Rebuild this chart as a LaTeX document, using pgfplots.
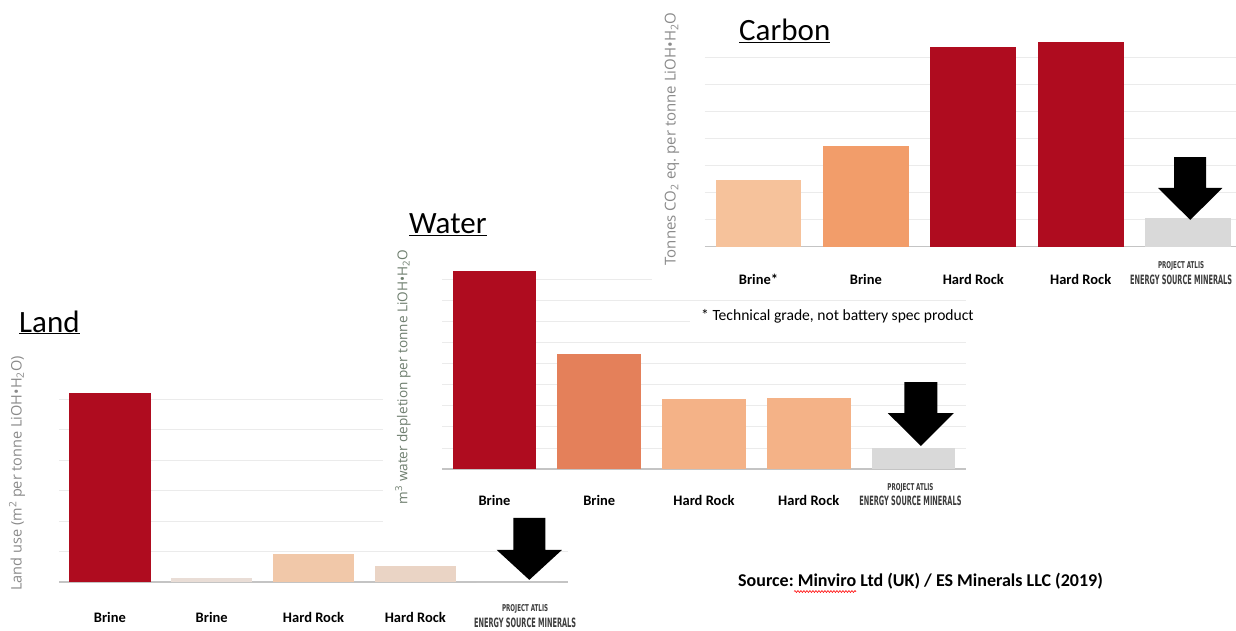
\documentclass[border=0pt]{standalone}
\usepackage{pgfplots}
\pgfplotsset{compat=1.18}
\usepackage{graphicx}
\usepackage{fontspec}
\setmainfont{Carlito}
\newfontfamily\osans{Open Sans}
\newfontfamily\condf{DejaVu Sans Condensed}
\usetikzlibrary{decorations.pathmorphing}
\frenchspacing

\definecolor{dred}{HTML}{AF0C1F}
\definecolor{landBb}{HTML}{E9DDD6}
\definecolor{landHa}{HTML}{F1C8A9}
\definecolor{landHb}{HTML}{EAD4C5}
\definecolor{watB}{HTML}{E4805A}
\definecolor{watH}{HTML}{F4B287}
\definecolor{carBa}{HTML}{F6C29B}
\definecolor{carBb}{HTML}{F29D6A}
\definecolor{atlisc}{HTML}{D9D9D9}
\definecolor{gridc}{HTML}{EBEBEB}
\definecolor{basec}{HTML}{C4C4C4}
\definecolor{labgray}{HTML}{8A8A8A}
\definecolor{watlab}{HTML}{6E7E6E}
\definecolor{atlistext}{HTML}{3C3C3C}

\newcommand\atlis{\color{atlistext}\begin{tabular}[b]{@{}c@{}}\resizebox{46pt}{7pt}{\condf\bfseries PROJECT ATLIS}\\[-1.5pt]\resizebox{102pt}{9.5pt}{\condf\bfseries ENERGY SOURCE MINERALS}\end{tabular}}

\pgfplotsset{panel/.style={
  scale only axis, anchor=south west,
  xmin=-0.5, xmax=4.5, ymin=0,
  axis lines*=left,
  x axis line style={draw=basec, line width=1.2pt},
  y axis line style={draw=none},
  xtick={0,1,2,3,4}, major tick length=0pt,
  yticklabels={},
  ymajorgrids, grid style={draw=gridc, line width=0.8pt},
  xticklabel style={anchor=base, font=\fontsize{14.5}{17}\selectfont\bfseries, text=black},
  clip=false,
}}
\pgfplotsset{bar/.style={ybar, bar width=0.8, draw=none, fill=#1}}

\begin{document}
\begin{tikzpicture}
\fill[white] (0,0) rectangle (1236pt,630pt);
\path[use as bounding box] (0,0) rectangle (1236pt,630pt);

% ---------------- Land ----------------
\begin{axis}[panel, at={(59pt,48pt)}, width=509pt, height=195.2pt, ymax=6.4, ytick={0,1,2,3,4,5,6},
  xticklabels={Brine,Brine,Hard Rock,Hard Rock,\kern16pt\raisebox{-5pt}{\atlis}},
  xticklabel style={yshift=-40pt}]
\addplot[bar=dred] coordinates {(0,6.2)};
\addplot[bar=landBb] coordinates {(1,0.13)};
\addplot[bar=landHa] coordinates {(2,0.92)};
\addplot[bar=landHb] coordinates {(3,0.52)};
\addplot[bar=atlisc] coordinates {(4,0)};
\coordinate (La) at (axis cs:3.963,2.10);
\coordinate (Lb) at (axis cs:4.277,2.10);
\coordinate (Lc) at (axis cs:4.277,1.05);
\coordinate (Ld) at (axis cs:4.44,1.05);
\coordinate (Le) at (axis cs:4.12,0.07);
\coordinate (Lf) at (axis cs:3.80,1.05);
\coordinate (Lg) at (axis cs:3.963,1.05);
\end{axis}

% white panel behind Water
\fill[white] (383pt,95pt) rectangle (985pt,430pt);

% ---------------- Water ----------------
\begin{axis}[panel, at={(442.1pt,161pt)}, width=523.75pt, height=202.56pt, ymax=9.6, ytick={0,1,2,3,4,5,6,7,8,9},
  xticklabels={Brine,Brine,Hard Rock,Hard Rock,\kern-6pt\atlis},
  xticklabel style={yshift=-36.5pt}]
\addplot[bar=dred] coordinates {(0,9.38)};
\addplot[bar=watB] coordinates {(1,5.45)};
\addplot[bar=watH] coordinates {(2,3.32)};
\addplot[bar=watH] coordinates {(3,3.36)};
\addplot[bar=atlisc] coordinates {(4,1.0)};
\fill[black] (axis cs:3.913,4.12) -- (axis cs:4.227,4.12) -- (axis cs:4.227,2.65) -- (axis cs:4.385,2.65)
  -- (axis cs:4.07,1.09) -- (axis cs:3.755,2.65) -- (axis cs:3.913,2.65) -- cycle;
\end{axis}

% white panel behind Carbon
\fill[white] (652pt,337pt) rectangle (1236pt,630pt);
\fill[white] (690pt,300pt) rectangle (990pt,327pt);

% ---------------- Carbon ----------------
\begin{axis}[panel, at={(704.8pt,383.3pt)}, width=531.6pt, height=208.4pt, xmax=4.45, ymax=7.7, ytick={0,1,2,3,4,5,6,7},
  xticklabels={Brine*,Brine,Hard Rock,Hard Rock,\kern-14pt\atlis},
  xticklabel style={yshift=-37.5pt}]
\addplot[bar=carBa] coordinates {(0,2.46)};
\addplot[bar=carBb] coordinates {(1,3.72)};
\addplot[bar=dred] coordinates {(2,7.39)};
\addplot[bar=dred] coordinates {(3,7.55)};
\addplot[bar=atlisc] coordinates {(4,1.05)};
\fill[black] (axis cs:3.871,3.31) -- (axis cs:4.169,3.31) -- (axis cs:4.169,2.17) -- (axis cs:4.32,2.17)
  -- (axis cs:4.02,0.99) -- (axis cs:3.72,2.17) -- (axis cs:3.871,2.17) -- cycle;
\end{axis}

% Land arrow (on top of everything)
\fill[black] (La) -- (Lb) -- (Lc) -- (Ld) -- (Le) -- (Lf) -- (Lg) -- cycle;

% titles
\node[anchor=base west, inner sep=0pt, font=\fontsize{31}{36}\selectfont] at (19pt,298pt) {\underline{Land}};
\node[anchor=base west, inner sep=0pt, font=\fontsize{31}{36}\selectfont] at (409pt,396pt) {\underline{Water}};
\node[anchor=base west, inner sep=0pt, font=\fontsize{31}{36}\selectfont] at (739pt,589pt) {\underline{Carbon}};

% y labels
\node[rotate=90, inner sep=0pt, text=labgray, font=\osans\fontsize{14.5}{17}\selectfont] at (17pt,156.5pt)
  {Land use (m\textsuperscript{2} per tonne LiOH\textbullet H\textsubscript{2}O)};
\node[rotate=90, inner sep=0pt, text=watlab, font=\osans\fontsize{13.6}{16}\selectfont] at (403pt,253pt)
  {m\textsuperscript{3} water depletion per tonne LiOH\textbullet H\textsubscript{2}O};
\node[rotate=90, inner sep=0pt, text=labgray, font=\osans\fontsize{15}{18}\selectfont] at (672pt,491pt)
  {Tonnes CO\textsubscript{2} eq. per tonne LiOH\textbullet H\textsubscript{2}O};

% notes
\node[anchor=base west, inner sep=0pt, font=\fontsize{15.6}{18}\selectfont] at (701pt,310pt)
  {* Technical grade, not battery spec product};
\node[anchor=base west, inner sep=0pt, font=\fontsize{18}{21}\selectfont\bfseries] at (738pt,44pt)
  {Source: Minviro Ltd (UK) / ES Minerals LLC (2019)};
\draw[red, line width=0.6pt, decorate, decoration={snake, amplitude=0.9pt, segment length=3pt}] (794pt,38.5pt) -- (856pt,38.5pt);
\end{tikzpicture}
\end{document}
